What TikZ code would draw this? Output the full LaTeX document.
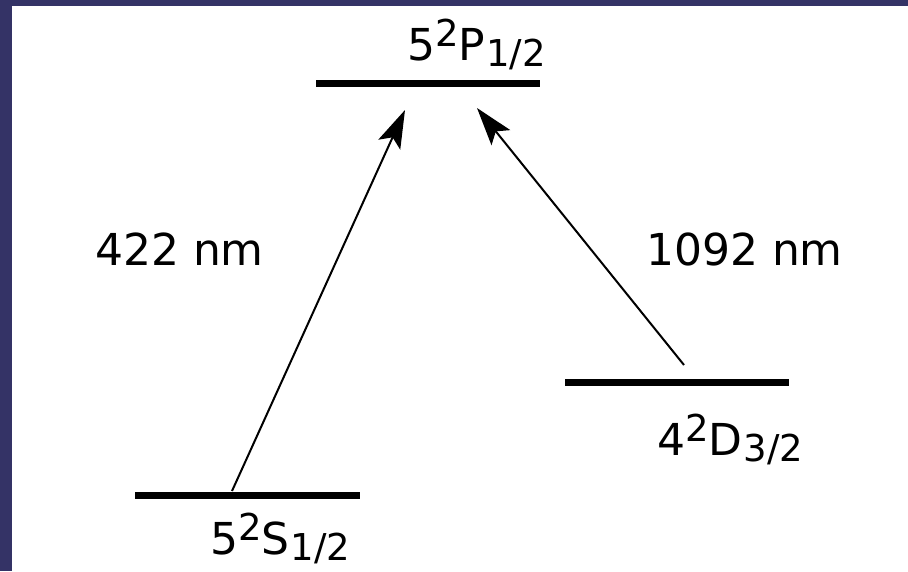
\documentclass[tikz,border=0pt]{standalone}
\usepackage{fontspec}
\setmainfont{DejaVu Sans}
\usetikzlibrary{arrows.meta}
\definecolor{frame}{RGB}{52,51,102}

% term symbol n^{2S+1}L_J set in text
\newcommand{\termsym}[4]{%
  \fontsize{44}{44}\selectfont #1%
  \raisebox{14pt}{\fontsize{37}{37}\selectfont #2}%
  #3\kern1pt\raisebox{-6pt}{\fontsize{37}{37}\selectfont #4}}

\tikzset{
  level/.style={line width=7pt},
  trans/.style={line width=2pt, -{Stealth[length=38pt,width=24pt,inset=8pt]}},
  lbl/.style={inner sep=0pt, anchor=base west, font=\fontsize{44}{44}\selectfont},
}

\begin{document}
\begin{tikzpicture}[x=1pt,y=-1pt]
  \useasboundingbox (0,0) rectangle (908,571);
  \fill[frame] (0,0) rectangle (908,571);
  \fill[white] (12,6) rectangle (908,571);

  % energy levels
  \coordinate (P0) at (316,83);  \coordinate (P1) at (540,83);
  \coordinate (S0) at (135,495); \coordinate (S1) at (360,495);
  \coordinate (D0) at (565,382); \coordinate (D1) at (789,382);
  \draw[level] (P0) -- (P1);
  \draw[level] (S0) -- (S1);
  \draw[level] (D0) -- (D1);

  % transition end points
  \coordinate (sFrom) at (232,491);
  \coordinate (sTo)   at (405,110);
  \coordinate (dFrom) at (684,365);
  \coordinate (dTo)   at (477,108);
  \draw[trans] (sFrom) -- (sTo);
  \draw[trans] (dFrom) -- (dTo);

  % labels
  \node[lbl] (pLab) at (407,60)  {\termsym{5}{2}{P}{1/2}};
  \node[lbl] (sLab) at (210,554) {\termsym{5}{2}{S}{1/2}};
  \node[lbl] (dLab) at (657,455) {\termsym{4}{2}{D}{3/2}};
  \node[lbl] (w1) at (95,265)  {422 nm};
  \node[lbl] (w2) at (646,265) {1092 nm};
\end{tikzpicture}
\end{document}
